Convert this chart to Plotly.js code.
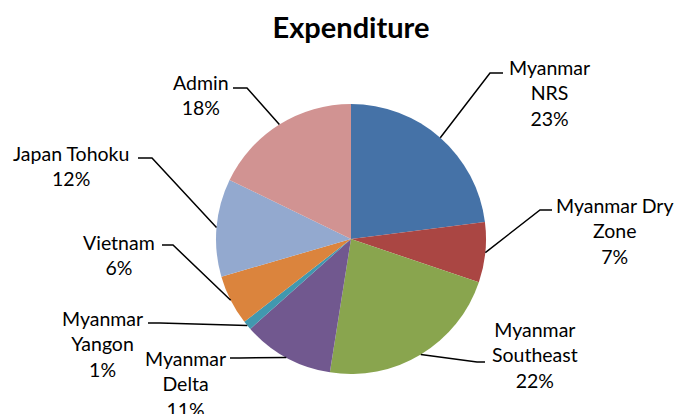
<!DOCTYPE html>
<html>
<head>
<meta charset="utf-8">
<script src="https://cdn.plot.ly/plotly-3.0.1.min.js"></script>
<style>html,body{margin:0;padding:0;background:#fff;}#chart{width:676px;height:414px;}</style>
</head>
<body>
<div id="chart"></div>
<script>
// ---- data ----
var categories = ["Myanmar NRS", "Myanmar Dry Zone", "Myanmar Southeast", "Myanmar Delta", "Myanmar Yangon", "Vietnam", "Japan Tohoku", "Admin"];
var labelLines = ["Myanmar<br>NRS", "Myanmar Dry<br>Zone", "Myanmar<br>Southeast", "Myanmar<br>Delta", "Myanmar<br>Yangon", "Vietnam", "Japan Tohoku", "Admin"];
var values = [23.0, 7.2, 22.3, 10.9, 1.1, 6.0, 11.7, 17.8];
var colors = ["#4572A7", "#AA4643", "#89A54E", "#71588F", "#4198AF", "#DB843D", "#93A9CF", "#D19392"];

// ---- layout (pixels) ----
var W = 676, H = 414;
var pieBox = {x0: 216, x1: 486, y0: 104, y1: 374};
// label block centres and leader-line elbow/end points (layout)
var labelPos = [[549, 93], [615, 231], [535, 355], [185, 384], [102, 344], [119, 255], [71, 166], [201, 95]];
var elbow = [[[490, 73], [503, 73]], [[540, 210], [552, 210]], [[477, 362], [485, 362]], [[240, 358], [230, 358]],
             [[160, 323], [148, 323]], [[173, 245], [162, 245]], [[152, 158], [138, 158]], [[247, 88], [233, 88]]];

function px(x) { return x / W; }
function py(y) { return 1 - y / H; }

var cx = (pieBox.x0 + pieBox.x1) / 2, cy = (pieBox.y0 + pieBox.y1) / 2;
var r = Math.min(pieBox.x1 - pieBox.x0, pieBox.y1 - pieBox.y0) / 2;
var total = values.reduce(function (a, b) { return a + b; }, 0);

var annotations = [], shapes = [];
var cum = 0;
for (var i = 0; i < values.length; i++) {
  var mid = (cum + values[i] / 2) / total * 2 * Math.PI;
  cum += values[i];
  var ex = cx + r * Math.sin(mid), ey = cy - r * Math.cos(mid);
  var pct = Math.round(values[i] / total * 100) + "%";
  annotations.push({
    xref: "paper", yref: "paper", x: px(labelPos[i][0]), y: py(labelPos[i][1]),
    xanchor: "center", yanchor: "middle", align: "center", showarrow: false,
    text: labelLines[i] + "<br>" + pct,
    font: {family: "Lato, sans-serif", size: 19.5, color: "#000"}
  });
  var path = "M" + px(ex) + "," + py(ey) + " L" + px(elbow[i][0][0]) + "," + py(elbow[i][0][1]) +
             " L" + px(elbow[i][1][0]) + "," + py(elbow[i][1][1]);
  shapes.push({type: "path", xref: "paper", yref: "paper", path: path, line: {color: "#000", width: 1.5}});
}

var trace = {
  type: "pie", labels: categories, values: values, sort: false, direction: "clockwise", rotation: 0,
  marker: {colors: colors, line: {width: 0}}, textinfo: "none", hoverinfo: "label+percent",
  domain: {x: [px(pieBox.x0), px(pieBox.x1)], y: [py(pieBox.y1), py(pieBox.y0)]}
};

var layout = {
  width: W, height: H, margin: {l: 0, r: 0, t: 0, b: 0}, showlegend: false,
  paper_bgcolor: "#fff",
  title: {text: "Expenditure", x: 351 / W, xanchor: "center", xref: "paper", yref: "container", y: 1 - 28 / H, yanchor: "middle",
          font: {family: "Lato, sans-serif", size: 29, weight: "bold", color: "#000"}},
  annotations: annotations, shapes: shapes
};

Plotly.newPlot("chart", [trace], layout, {displayModeBar: false, staticPlot: true});
</script>
</body>
</html>
